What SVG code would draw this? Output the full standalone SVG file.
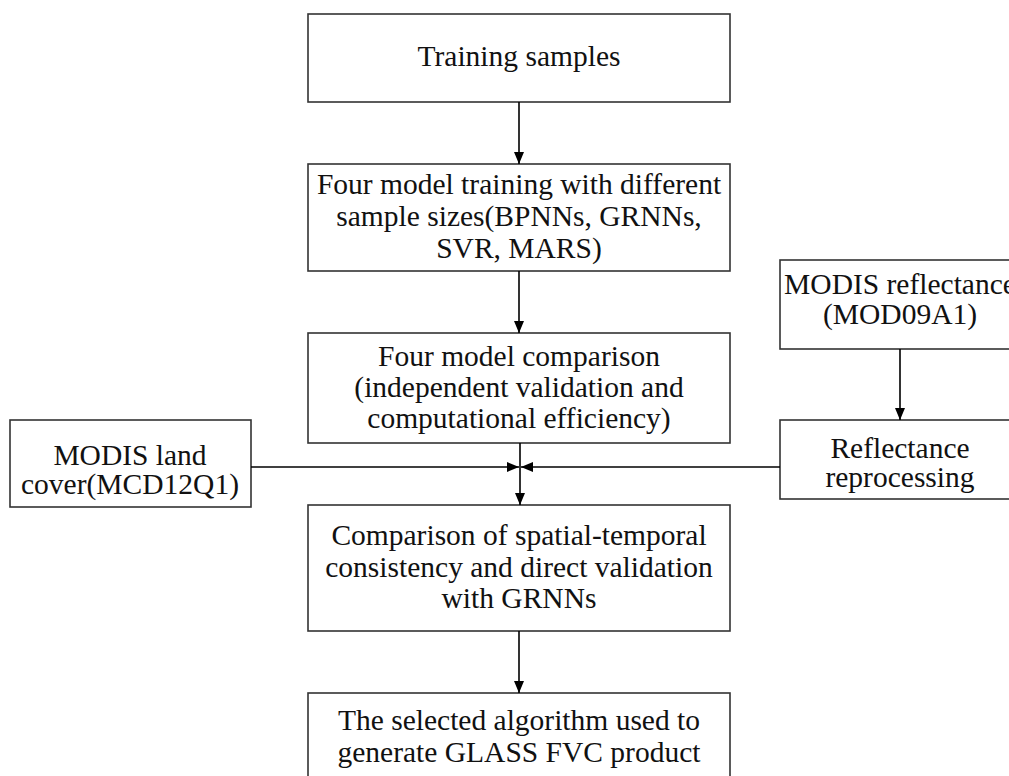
<svg xmlns="http://www.w3.org/2000/svg" width="1009" height="776" viewBox="0 0 1009 776">
<defs>
<marker id="arr" markerWidth="12" markerHeight="10" refX="12" refY="5" orient="auto" markerUnits="userSpaceOnUse">
<path d="M0,0 L12,5 L0,10 z" fill="#000"/>
</marker>
<style>
.box{fill:#fff;stroke:#333;stroke-width:1.6}
.t{font-family:"Liberation Serif","Times New Roman",serif;font-size:29.5px;fill:#111;text-anchor:middle}
.c{fill:none;stroke:#000;stroke-width:1.6}
</style>
</defs>
<rect width="1009" height="776" fill="#fff"/>
<g id="n1">
<rect class="box" x="308" y="14" width="422" height="88"/>
<text class="t" x="519" y="66">Training samples</text>
</g>
<g id="n2">
<rect class="box" x="308" y="164" width="422" height="107"/>
<text class="t" x="519" y="194">Four model training with different</text>
<text class="t" x="519" y="226">sample sizes(BPNNs, GRNNs,</text>
<text class="t" x="519" y="258">SVR, MARS)</text>
</g>
<g id="n3">
<rect class="box" x="308" y="333" width="422" height="110"/>
<text class="t" x="519" y="366">Four model comparison</text>
<text class="t" x="519" y="397">(independent validation and</text>
<text class="t" x="519" y="428">computational efficiency)</text>
</g>
<g id="n4">
<rect class="box" x="308" y="505" width="422" height="126"/>
<text class="t" x="519" y="545">Comparison of spatial-temporal</text>
<text class="t" x="519" y="577">consistency and direct validation</text>
<text class="t" x="519" y="608">with GRNNs</text>
</g>
<g id="n5">
<rect class="box" x="308" y="693" width="422" height="90"/>
<text class="t" x="519" y="730">The selected algorithm used to</text>
<text class="t" x="519" y="762">generate GLASS FVC product</text>
</g>
<g id="n6">
<rect class="box" x="10" y="420" width="241" height="87"/>
<text class="t" x="130" y="465">MODIS land</text>
<text class="t" x="130" y="494">cover(MCD12Q1)</text>
</g>
<g id="n7">
<rect class="box" x="780" y="260" width="240" height="89"/>
<text class="t" x="900" y="294">MODIS reflectance</text>
<text class="t" x="900" y="324">(MOD09A1)</text>
</g>
<g id="n8">
<rect class="box" x="780" y="420" width="240" height="79"/>
<text class="t" x="900" y="458">Reflectance</text>
<text class="t" x="900" y="487">reprocessing</text>
</g>
<g id="connectors">
<line class="c" x1="519" y1="102" x2="519" y2="164" marker-end="url(#arr)"/>
<line class="c" x1="519" y1="271" x2="519" y2="333" marker-end="url(#arr)"/>
<line class="c" x1="520" y1="443" x2="520" y2="505" marker-end="url(#arr)"/>
<line class="c" x1="251" y1="467" x2="519" y2="467" marker-end="url(#arr)"/>
<line class="c" x1="780" y1="467" x2="521" y2="467" marker-end="url(#arr)"/>
<line class="c" x1="519" y1="631" x2="519" y2="693" marker-end="url(#arr)"/>
<line class="c" x1="900" y1="349" x2="900" y2="420" marker-end="url(#arr)"/>
</g>
</svg>
